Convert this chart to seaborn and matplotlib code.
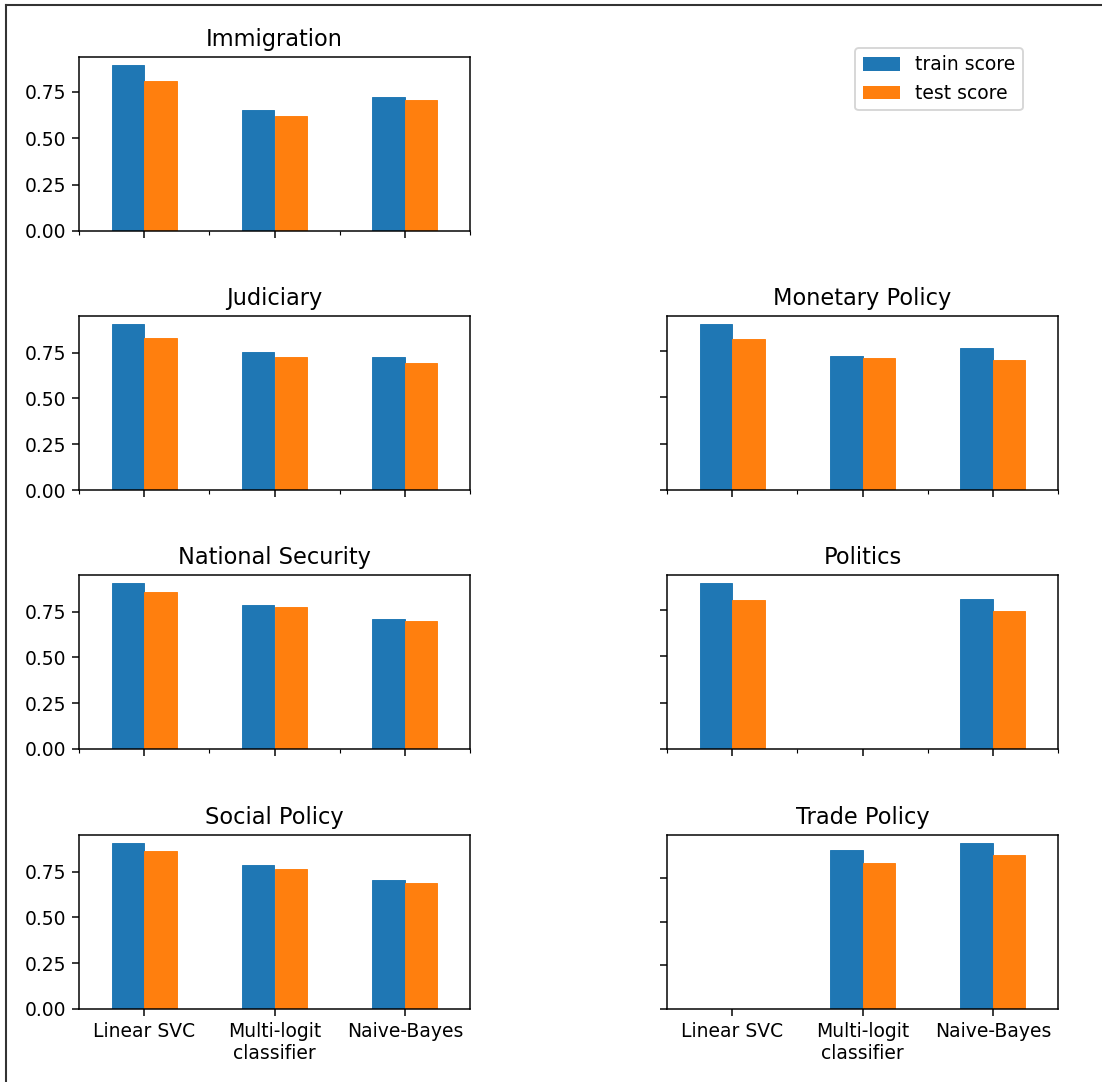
import numpy as np
import pandas as pd
import matplotlib
matplotlib.use("Agg")
import matplotlib.pyplot as plt
from matplotlib.lines import Line2D
from matplotlib.ticker import FixedLocator, MultipleLocator, FormatStrFormatter
import seaborn as sns

# Classifier names shown on the x axis
categories = ["Linear SVC", "Multi-logit\nclassifier", "Naive-Bayes"]
series_names = ["train score", "test score"]

# Scores per topic (NaN = classifier not evaluated for that topic)
immigration_train = [0.892, 0.650, 0.721]
immigration_test = [0.807, 0.619, 0.703]

judiciary_train = [0.904, 0.755, 0.725]
judiciary_test = [0.830, 0.723, 0.694]

monetary_train = [0.894, 0.725, 0.768]
monetary_test = [0.816, 0.714, 0.703]

security_train = [0.905, 0.785, 0.710]
security_test = [0.860, 0.774, 0.701]

politics_train = [0.895, np.nan, 0.808]
politics_test = [0.806, np.nan, 0.745]

social_train = [0.904, 0.784, 0.701]
social_test = [0.861, 0.764, 0.690]

trade_train = [np.nan, 0.914, 0.950]
trade_test = [np.nan, 0.838, 0.880]

topics = ["Immigration", "Judiciary", "Monetary Policy", "National Security",
          "Politics", "Social Policy", "Trade Policy"]
train_scores = [immigration_train, judiciary_train, monetary_train, security_train,
                politics_train, social_train, trade_train]
test_scores = [immigration_test, judiciary_test, monetary_test, security_test,
               politics_test, social_test, trade_test]

# Grid cell (row, col) of each topic; cell (0, 1) holds the legend
cells = [(0, 0), (1, 0), (1, 1), (2, 0), (2, 1), (3, 0), (3, 1)]

colors = ["#1f77b4", "#ff7f0e"]

W, H, DPI = 1102, 1082, 135
fig = plt.figure(figsize=(W / DPI, H / DPI), dpi=DPI)

col_left = [79 / W, 667 / W]
ax_w = 391 / W
row_bottom = [1 - 231 / H, 1 - 490 / H, 1 - 749 / H, 1 - 1009 / H]
ax_h = 174 / H

legend_handles = None
for topic, tr, te, (r, c) in zip(topics, train_scores, test_scores, cells):
    df = pd.DataFrame({
        "classifier": categories * 2,
        "series": [series_names[0]] * 3 + [series_names[1]] * 3,
        "score": list(tr) + list(te),
    })
    ax = fig.add_axes([col_left[c], row_bottom[r], ax_w, ax_h])
    sns.barplot(data=df, x="classifier", y="score", hue="series",
                order=categories, hue_order=series_names, palette=colors,
                width=0.5, saturation=1, errorbar=None, legend=True,
                linewidth=0, ax=ax)
    # edge in the fill colour so adjacent bars meet without a seam
    for p in ax.patches:
        p.set_edgecolor(p.get_facecolor())
        p.set_linewidth(0.5)
    leg = ax.get_legend()
    if legend_handles is None:
        legend_handles = list(leg.legend_handles)
        for h in legend_handles:
            h.set_linewidth(0)
    leg.remove()

    ax.set_title(topic)
    ax.set_xlabel("")
    ax.set_ylabel("")
    ax.set_xlim(-0.5, 2.5)
    ax.yaxis.set_major_locator(MultipleLocator(0.25))
    ax.yaxis.set_major_formatter(FormatStrFormatter("%.2f"))
    for side in ["top", "right", "left", "bottom"]:
        ax.spines[side].set_visible(True)
        ax.spines[side].set_color("black")

    if c == 1:
        ax.tick_params(axis="y", labelleft=False)
    if r < 3:
        ax.tick_params(axis="x", labelbottom=False)
        ax.xaxis.set_minor_locator(FixedLocator([-0.5, 0.5, 1.5, 2.5]))
    ax.tick_params(axis="x", which="major", length=3.5)

fig.legend(legend_handles, series_names, loc="upper right",
           bbox_to_anchor=(1023 / W, 1 - 48 / H), borderaxespad=0)

# Frame lines along the top and left edges
fig.add_artist(Line2D([6 / W, 1.0], [1 - 5 / H, 1 - 5 / H],
                      transform=fig.transFigure, color="#333333", lw=1.1))
fig.add_artist(Line2D([6 / W, 6 / W], [0.0, 1 - 5 / H],
                      transform=fig.transFigure, color="#333333", lw=1.1))

fig.savefig("out.png", dpi=DPI)
